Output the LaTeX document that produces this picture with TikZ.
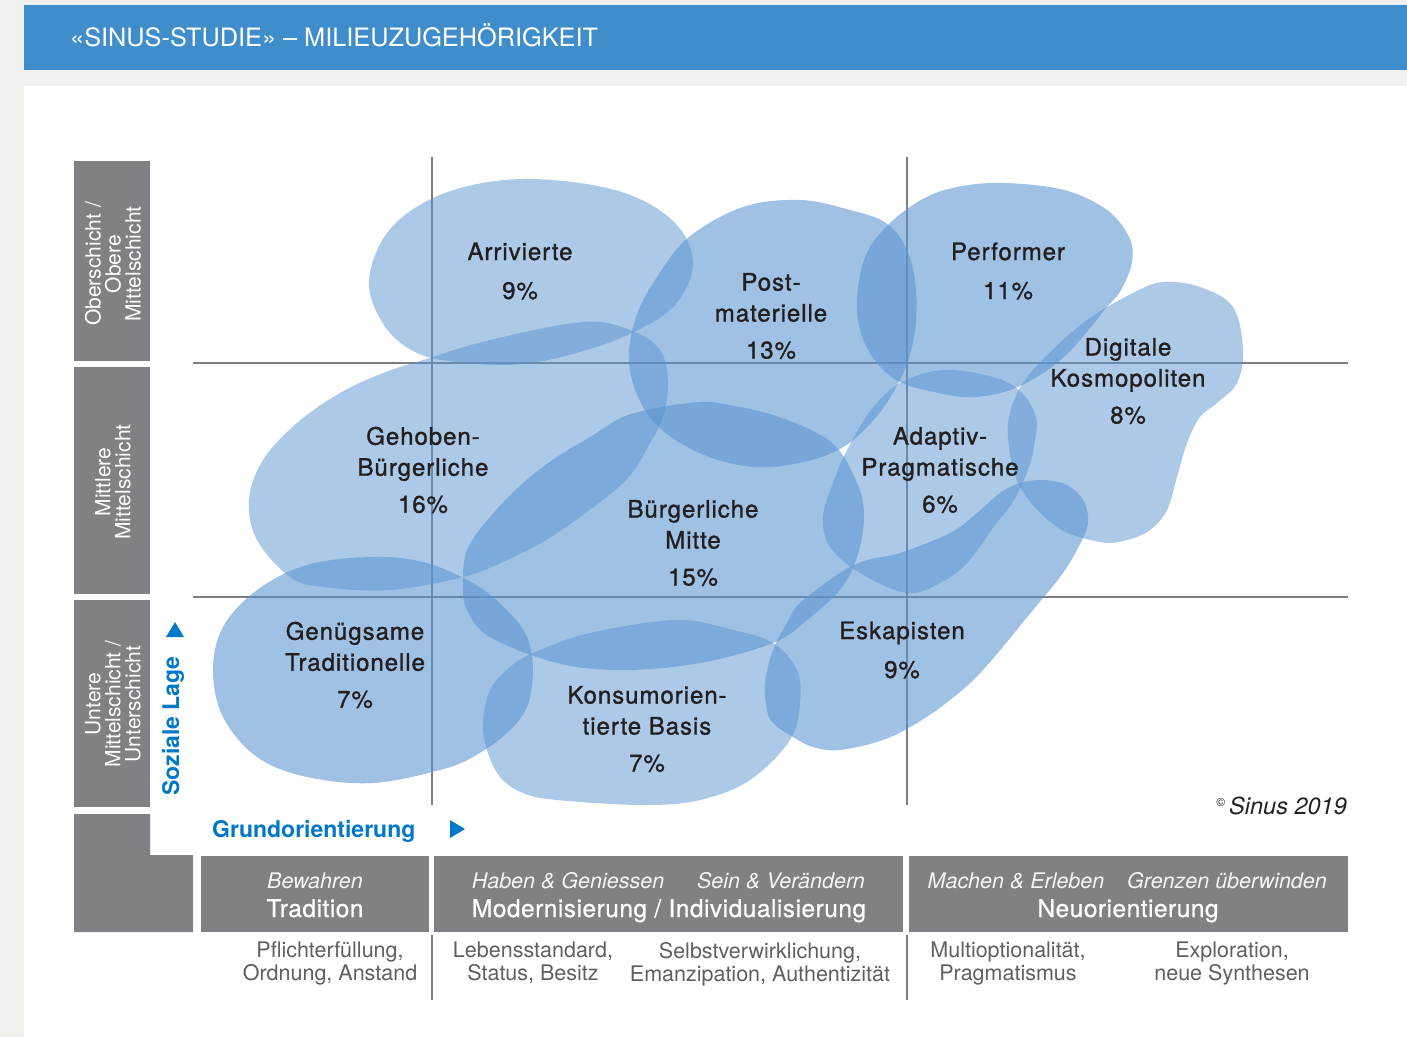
\documentclass[tikz,border=0pt]{standalone}
\usepackage{fontspec}
\setmainfont{TeX Gyre Heros}
\newfontfamily\labfont[FakeBold=1.2,LetterSpace=4]{TeX Gyre Heros}
\newfontfamily\barfont[FakeBold=0.7,LetterSpace=2]{TeX Gyre Heros}
\definecolor{pagegray}{RGB}{240,240,236}
\definecolor{headblue}{RGB}{64,141,203}
\definecolor{boxgray}{RGB}{128,129,133}
\definecolor{linegray}{RGB}{125,125,128}
\definecolor{blobblue}{RGB}{91,149,209}
\definecolor{labcol}{RGB}{35,31,32}
\definecolor{axisblue}{RGB}{0,120,200}
\definecolor{subgray}{RGB}{95,95,98}
\definecolor{bartext}{RGB}{245,245,245}
\tikzset{
  blobL/.style={fill=blobblue, fill opacity=0.5},
  blobD/.style={fill=blobblue, fill opacity=0.58},
  gridline/.style={draw=linegray, line width=2pt},
  lbl/.style={font=\labfont\fontsize{24}{31}\selectfont, text=labcol, align=center, inner sep=0pt},
  sidelbl/.style={font=\fontsize{21}{20}\selectfont, text=white, align=center, rotate=90, inner sep=0pt},
  baritalic/.style={font=\itshape\fontsize{21.5}{22}\selectfont, text=bartext, anchor=base, inner sep=0pt},
  barbold/.style={font=\barfont\fontsize{24.5}{26}\selectfont, text=white, anchor=base, inner sep=0pt},
  subtext/.style={font=\fontsize{21.5}{23}\selectfont, text=subgray, align=center, anchor=north, inner sep=0pt},
  axislbl/.style={font=\bfseries\fontsize{23}{24}\selectfont, text=axisblue, inner sep=0pt},
  blobpath/.style={smooth cycle, tension=0.6}
}
\begin{document}
\begin{tikzpicture}[x=1pt,y=-1pt]
\useasboundingbox (0,0) rectangle (1407,1037);
% page
\fill[pagegray] (0,0) rectangle (1407,1037);
\fill[headblue] (24,5) rectangle (1407,70);
\fill[white] (24,86) rectangle (1407,1037);
\node[anchor=base west, inner sep=0pt, text=white, font=\fontsize{25.3}{28}\selectfont] (title) at (70,46) {«SINUS-STUDIE» – MILIEUZUGEHÖRIGKEIT};

% left boxes
\fill[boxgray] (74,161) rectangle (150,361);
\fill[boxgray] (74,367) rectangle (150,594);
\fill[boxgray] (74,600) rectangle (150,807);
\fill[boxgray] (74,814) -- (150,814) -- (150,855) -- (193,855) -- (193,932) -- (74,932) -- cycle;
\node[sidelbl] (ober) at (113,264) {Oberschicht /\\Obere\\Mittelschicht};
\node[sidelbl] (mitt) at (113,482) {Mittlere\\Mittelschicht};
\node[sidelbl] (unter) at (113,704) {Untere\\Mittelschicht /\\Unterschicht};

% bottom bars
\fill[boxgray] (201,856) rectangle (429,932);
\fill[boxgray] (434,856) rectangle (903,932);
\fill[boxgray] (909,856) rectangle (1348,932);
\node[baritalic] (bew) at (315,888) {Bewahren};
\node[barbold] (trad) at (315,917) {Tradition};
\node[baritalic] (hab) at (568,888) {Haben \& Geniessen};
\node[baritalic] (sein) at (781,888) {Sein \& Verändern};
\node[barbold] (mod) at (669,917) {Modernisierung / Individualisierung};
\node[baritalic] (mach) at (1016,888) {Machen \& Erleben};
\node[baritalic] (grenz) at (1227,888) {Grenzen überwinden};
\node[barbold] (neu) at (1128,917) {Neuorientierung};

\node[subtext] (s1) at (330,942) {Pflichterfüllung,\\Ordnung, Anstand};
\node[subtext] (s2) at (533,942) {Lebensstandard,\\Status, Besitz};
\node[subtext] (s3) at (760,942) {Selbstverwirklichung,\\Emanzipation, Authentizität};
\node[subtext] (s4) at (1008,942) {Multioptionalität,\\Pragmatismus};
\node[subtext] (s5) at (1232,942) {Exploration,\\neue Synthesen};

% grid
\draw[gridline] (193,363) -- (1348,363);
\draw[gridline] (193,597) -- (1348,597);
\draw[gridline] (432,157) -- (432,805);
\draw[gridline] (907,157) -- (907,805);
\draw[gridline] (432,935) -- (432,1000);
\draw[gridline] (907,935) -- (907,1000);

% blobs
% Arrivierte
\fill[blobL] plot[blobpath] coordinates {(369,280) (391,228) (445,193) (523,179) (615,190) (672,220) (693,262) (675,305) (632,333) (580,352) (523,364) (465,363) (417,353) (384,325)};
% Gehoben-Buergerliche
\fill[blobL] plot[blobpath] coordinates {(249,500) (263,460) (297,423) (340,393) (383,373) (423,360) (490,340) (583,322) (630,330) (660,350) (668,383) (663,417) (650,443) (623,483) (557,533) (507,560) (463,577) (390,590) (323,587) (290,577) (257,540)};
% Postmaterielle
\fill[blobD] plot[blobpath] coordinates {(800,200) (850,210) (886,223) (907,250) (916,290) (914,337) (900,380) (871,423) (832,453) (771,467) (718,460) (671,437) (643,407) (629,363) (636,317) (657,277) (689,237) (743,207)};
% Performer
\fill[blobD] plot[blobpath] coordinates {(857,310) (864,260) (886,227) (921,200) (957,187) (1004,183) (1064,190) (1107,210) (1129,237) (1132,262) (1121,290) (1107,307) (1064,357) (1018,387) (975,397) (939,393) (896,380) (868,350)};
% Digitale Kosmopoliten
\fill[blobL] plot[blobpath] coordinates {(1163,282) (1200,287) (1233,307) (1243,350) (1237,383) (1217,403) (1200,417) (1187,443) (1177,477) (1167,510) (1150,530) (1127,540) (1100,542) (1057,527) (1020,487) (1008,437) (1013,403) (1033,370) (1083,323) (1133,293)};
% Adaptiv-Pragmatische
\fill[blobL] plot[blobpath] coordinates {(943,370) (993,377) (1021,392) (1036,417) (1035,440) (1029,467) (1014,500) (995,525) (967,563) (940,583) (907,593) (860,573) (830,547) (823,517) (833,483) (846,452) (871,410) (900,383)};
% Buergerliche Mitte
\fill[blobD] plot[blobpath] coordinates {(463,585) (467,550) (490,517) (523,483) (557,457) (590,437) (623,417) (657,408) (690,403) (718,403) (779,417) (832,443) (857,483) (864,517) (857,557) (840,590) (807,620) (773,643) (700,663) (623,670) (557,663) (490,637) (467,610)};
% Genuegsame Traditionelle
\fill[blobD] plot[blobpath] coordinates {(213,670) (223,627) (257,590) (307,565) (370,557) (423,562) (473,583) (507,610) (527,637) (533,670) (527,707) (507,733) (473,757) (440,770) (373,783) (307,777) (257,757) (223,717)};
% Konsumorientierte Basis
\fill[blobL] plot[blobpath] coordinates {(483,723) (490,690) (510,667) (533,653) (590,633) (677,620) (733,630) (773,643) (797,670) (800,703) (790,740) (750,780) (700,800) (643,805) (557,800) (523,793) (500,777) (487,750)};
% Eskapisten
\fill[blobD] plot[blobpath] coordinates {(767,710) (765,683) (773,650) (787,623) (800,603) (840,573) (867,560) (900,553) (950,533) (977,513) (1000,493) (1020,483) (1043,480) (1067,485) (1083,500) (1088,523) (1077,550) (1060,577) (1033,610) (983,670) (950,700) (917,723) (883,740) (840,750) (813,747) (793,737) (773,723)};

% blob labels
\node[lbl] (arr) at (520,271) {Arrivierte\\[8pt]9\%};
\node[lbl] (post) at (771,316) {Post-\\materielle\\[6pt]13\%};
\node[lbl] (perf) at (1008,271) {Performer\\[8pt]11\%};
\node[lbl] (digi) at (1128,381) {Digitale\\Kosmopoliten\\[6pt]8\%};
\node[lbl] (geh) at (423,470) {Gehoben-\\Bürgerliche\\[6pt]16\%};
\node[lbl] (bm) at (693,543) {Bürgerliche\\Mitte\\[6pt]15\%};
\node[lbl] (adap) at (940,470) {Adaptiv-\\Pragmatische\\[6pt]6\%};
\node[lbl] (gen) at (355,665) {Genügsame\\Traditionelle\\[6pt]7\%};
\node[lbl] (kons) at (647,729) {Konsumorien-\\tierte Basis\\[6pt]7\%};
\node[lbl] (esk) at (902,650) {Eskapisten\\[8pt]9\%};

% axes labels
\node[axislbl, rotate=90] (soz) at (173,726) {Soziale Lage};
\fill[axisblue] (166,637) -- (184,637) -- (175,622) -- cycle;
\node[axislbl, anchor=base west] (grund) at (212,837) {Grundorientierung};
\fill[axisblue] (450,820) -- (450,838) -- (465,829) -- cycle;

\node[anchor=base east, inner sep=0pt, text=labcol, font=\itshape\fontsize{23.5}{24}\selectfont] (copy) at (1347,814) {\raisebox{8pt}{\fontsize{12}{12}\selectfont\upshape ©}\,Sinus 2019};
\end{tikzpicture}
\end{document}
